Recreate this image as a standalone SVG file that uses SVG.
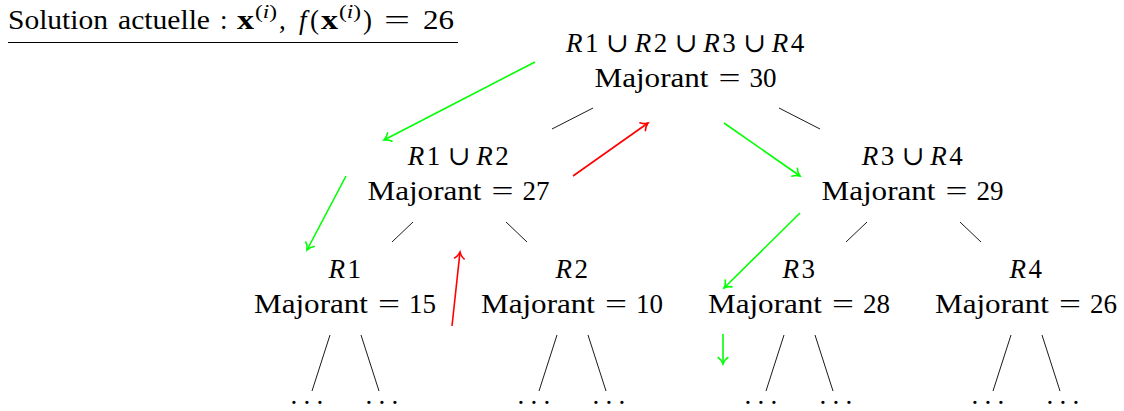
<svg xmlns="http://www.w3.org/2000/svg" width="1124" height="411" viewBox="0 0 1124 411">
<style>
.t{font-family:'Liberation Serif','DejaVu Serif',serif;font-size:27px;fill:#000}
.i{font-style:italic}
.b{font-weight:bold}
.m{text-anchor:middle}
.s{font-size:19px}
.edge{stroke:#000;stroke-width:0.9;fill:none}
.ga{stroke:#00ff00;stroke-width:1.6;fill:none;marker-end:url(#ag)}
.ra{stroke:#ff0000;stroke-width:1.6;fill:none;marker-end:url(#ar)}
.dots{letter-spacing:6.25px}
</style>
<defs>
<marker id="ag" markerUnits="userSpaceOnUse" viewBox="-8 -6 10 12" refX="0" refY="0" markerWidth="10" markerHeight="12" orient="auto" overflow="visible">
<path d="M-6.5,-4.8 C-4.8,-2 -1.6,-0.6 0,0 C-1.6,0.6 -4.8,2 -6.5,4.8" fill="none" stroke="#00ff00" stroke-width="1.6" stroke-linecap="round"/>
</marker>
<marker id="ar" markerUnits="userSpaceOnUse" viewBox="-8 -6 10 12" refX="0" refY="0" markerWidth="10" markerHeight="12" orient="auto" overflow="visible">
<path d="M-6.5,-4.8 C-4.8,-2 -1.6,-0.6 0,0 C-1.6,0.6 -4.8,2 -6.5,4.8" fill="none" stroke="#ff0000" stroke-width="1.6" stroke-linecap="round"/>
</marker>
</defs>
<rect width="1124" height="411" fill="#fff"/>

<g id="title">
<text class="t" y="29"><tspan x="8" textLength="100" lengthAdjust="spacingAndGlyphs">Solution</tspan><tspan x="118" textLength="92" lengthAdjust="spacingAndGlyphs">actuelle</tspan><tspan x="220">:</tspan><tspan x="237" class="b" textLength="17" lengthAdjust="spacingAndGlyphs">x</tspan><tspan x="255" y="18" class="s" textLength="22" lengthAdjust="spacingAndGlyphs">(<tspan class="i">i</tspan>)</tspan><tspan x="279" y="29">,</tspan><tspan x="299" class="i">f</tspan><tspan x="310">(</tspan><tspan x="321" class="b" textLength="17" lengthAdjust="spacingAndGlyphs">x</tspan><tspan x="339" y="18" class="s" textLength="22" lengthAdjust="spacingAndGlyphs">(<tspan class="i">i</tspan>)</tspan><tspan x="363" y="29">)</tspan><tspan x="384" textLength="26" lengthAdjust="spacingAndGlyphs">=</tspan><tspan x="423" textLength="31" lengthAdjust="spacingAndGlyphs">26</tspan></text>
<line x1="8" y1="42.5" x2="458" y2="42.5" stroke="#000" stroke-width="1"/>
</g>

<g id="n0">
<text class="t" y="52"><tspan x="566" class="i">R</tspan><tspan x="585">1</tspan><tspan x="617.4" class="m">∪</tspan><tspan x="634.7" class="i">R</tspan><tspan x="653.7">2</tspan><tspan x="686" class="m">∪</tspan><tspan x="703.3" class="i">R</tspan><tspan x="722.3">3</tspan><tspan x="754.6" class="m">∪</tspan><tspan x="771.8" class="i">R</tspan><tspan x="790.8">4</tspan></text>
<text class="t" y="87"><tspan x="594.5" textLength="114" lengthAdjust="spacingAndGlyphs">Majorant</tspan><tspan x="729.5" class="m" textLength="22" lengthAdjust="spacingAndGlyphs">=</tspan><tspan x="763" class="m">30</tspan></text>
</g>

<g id="n1">
<text class="t" y="165"><tspan x="407.7" class="i">R</tspan><tspan x="426.7">1</tspan><tspan x="459" class="m">∪</tspan><tspan x="476.3" class="i">R</tspan><tspan x="495.3">2</tspan></text>
<text class="t" y="200"><tspan x="367.5" textLength="114" lengthAdjust="spacingAndGlyphs">Majorant</tspan><tspan x="502.5" class="m" textLength="22" lengthAdjust="spacingAndGlyphs">=</tspan><tspan x="536" class="m">27</tspan></text>
</g>

<g id="n2">
<text class="t" y="165"><tspan x="861.7" class="i">R</tspan><tspan x="880.7">3</tspan><tspan x="913" class="m">∪</tspan><tspan x="930.3" class="i">R</tspan><tspan x="949.3">4</tspan></text>
<text class="t" y="200"><tspan x="821.5" textLength="114" lengthAdjust="spacingAndGlyphs">Majorant</tspan><tspan x="956.5" class="m" textLength="22" lengthAdjust="spacingAndGlyphs">=</tspan><tspan x="990" class="m">29</tspan></text>
</g>

<g id="n3">
<text class="t" y="278"><tspan x="328.5" class="i">R</tspan><tspan x="347.5">1</tspan></text>
<text class="t" y="313"><tspan x="254" textLength="114" lengthAdjust="spacingAndGlyphs">Majorant</tspan><tspan x="389" class="m" textLength="22" lengthAdjust="spacingAndGlyphs">=</tspan><tspan x="422.5" class="m">15</tspan></text>
<text class="t dots" x="290.6" y="403.7">...</text>
<text class="t dots" x="365.6" y="403.7">...</text>
</g>

<g id="n4">
<text class="t" y="278"><tspan x="555.5" class="i">R</tspan><tspan x="574.5">2</tspan></text>
<text class="t" y="313"><tspan x="481" textLength="114" lengthAdjust="spacingAndGlyphs">Majorant</tspan><tspan x="616" class="m" textLength="22" lengthAdjust="spacingAndGlyphs">=</tspan><tspan x="649.5" class="m">10</tspan></text>
<text class="t dots" x="517.6" y="403.7">...</text>
<text class="t dots" x="592.6" y="403.7">...</text>
</g>

<g id="n5">
<text class="t" y="278"><tspan x="782.5" class="i">R</tspan><tspan x="801.5">3</tspan></text>
<text class="t" y="313"><tspan x="708" textLength="114" lengthAdjust="spacingAndGlyphs">Majorant</tspan><tspan x="843" class="m" textLength="22" lengthAdjust="spacingAndGlyphs">=</tspan><tspan x="876.5" class="m">28</tspan></text>
<text class="t dots" x="744.6" y="403.7">...</text>
<text class="t dots" x="819.6" y="403.7">...</text>
</g>

<g id="n6">
<text class="t" y="278"><tspan x="1009.5" class="i">R</tspan><tspan x="1028.5">4</tspan></text>
<text class="t" y="313"><tspan x="935" textLength="114" lengthAdjust="spacingAndGlyphs">Majorant</tspan><tspan x="1070" class="m" textLength="22" lengthAdjust="spacingAndGlyphs">=</tspan><tspan x="1103.5" class="m">26</tspan></text>
<text class="t dots" x="971.6" y="403.7">...</text>
<text class="t dots" x="1046.6" y="403.7">...</text>
</g>

<g id="connectors">
<line class="edge" x1="552" y1="129" x2="593" y2="108"/>
<line class="edge" x1="779" y1="108" x2="820" y2="129"/>
<line class="edge" x1="392" y1="242" x2="413" y2="222"/>
<line class="edge" x1="506" y1="222" x2="527" y2="242"/>
<line class="edge" x1="846" y1="242" x2="867" y2="222"/>
<line class="edge" x1="960" y1="222" x2="981" y2="242"/>
<line class="edge" x1="330" y1="335" x2="312" y2="391"/>
<line class="edge" x1="361" y1="335" x2="379" y2="391"/>
<line class="edge" x1="557" y1="335" x2="539" y2="391"/>
<line class="edge" x1="588" y1="335" x2="606" y2="391"/>
<line class="edge" x1="784" y1="335" x2="766" y2="391"/>
<line class="edge" x1="815" y1="335" x2="833" y2="391"/>
<line class="edge" x1="1011" y1="335" x2="993" y2="391"/>
<line class="edge" x1="1042" y1="335" x2="1060" y2="391"/>
<line class="ga" x1="535" y1="62" x2="384" y2="140"/>
<line class="ga" x1="346" y1="176" x2="307" y2="250"/>
<line class="ga" x1="724" y1="123" x2="800" y2="176"/>
<line class="ga" x1="800" y1="213" x2="724" y2="288"/>
<line class="ga" x1="723" y1="334" x2="723" y2="364"/>
<line class="ra" x1="452" y1="326" x2="460" y2="252"/>
<line class="ra" x1="573" y1="176" x2="648" y2="123"/>
</g>
</svg>
